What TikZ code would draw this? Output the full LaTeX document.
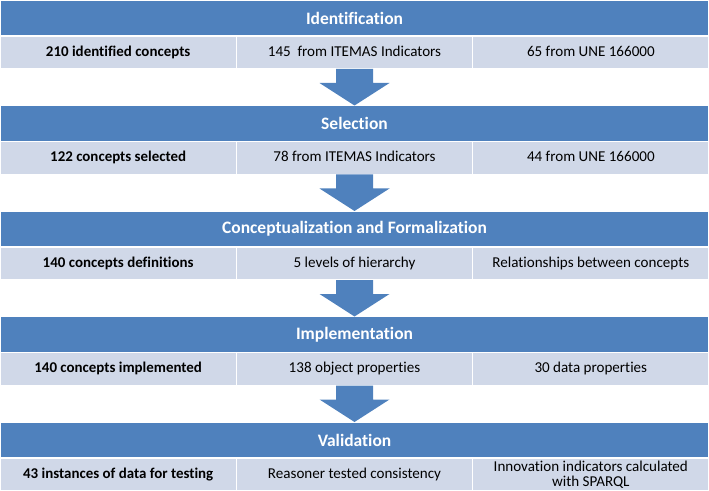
\documentclass[tikz,border=0pt]{standalone}
\usepackage{fontspec}
\setmainfont{Carlito}[Ligatures=NoCommon]
\usetikzlibrary{positioning,calc}
\definecolor{headblue}{HTML}{4F81BD}
\definecolor{cellblue}{HTML}{D0D8E8}

\begin{document}
\begin{tikzpicture}[x=0.75pt,y=-0.75pt,
    stagehead/.style={fill=headblue, draw=white, line width=0.8pt, outer sep=0pt, inner sep=0pt,
        minimum width=531.75pt, minimum height=27pt, text=white, font=\fontsize{13.1}{15}\selectfont\bfseries},
    cellbox/.style={fill=cellblue, draw=white, line width=0.8pt, outer sep=0pt, inner sep=0pt,
        minimum width=177.25pt, minimum height=24.75pt, align=center, font=\fontsize{11.3}{11.6}\selectfont},
    cell/.style={cellbox, text height=8pt, text depth=2.6pt},
    keycell/.style={cell, font=\fontsize{11.2}{12}\selectfont\bfseries},
    flow/.style={fill=headblue}]
    \useasboundingbox (0,0) rectangle (709,491);

    % Identification
    \node[stagehead] (h1) at (354.5,18) {Identification};
    \node[keycell] (c1a) at (118.17,52.5) {210 identified concepts};
    \node[cell] (c1b) at (354.5,52.5) {145\ \ from ITEMAS Indicators};
    \node[cell] (c1c) at (590.83,52.5) {65 from UNE 166000};

    % Selection
    \node[stagehead] (h2) at (354.5,123.5) {Selection};
    \node[keycell] (c2a) at (118.17,158) {122 concepts selected};
    \node[cell] (c2b) at (354.5,158) {78 from ITEMAS Indicators};
    \node[cell] (c2c) at (590.83,158) {44 from UNE 166000};

    % Conceptualization
    \node[stagehead] (h3) at (354.5,229) {Conceptualization and Formalization};
    \node[keycell] (c3a) at (118.17,263.5) {140 concepts definitions};
    \node[cell] (c3b) at (354.5,263.5) {5 levels of hierarchy};
    \node[cell] (c3c) at (590.83,263.5) {Relationships between concepts};

    % Implementation
    \node[stagehead] (h4) at (354.5,334.5) {Implementation};
    \node[keycell] (c4a) at (118.17,369) {140 concepts implemented};
    \node[cell] (c4b) at (354.5,369) {138 object properties};
    \node[cell] (c4c) at (590.83,369) {30 data properties};

    % Validation
    \node[stagehead] (h5) at (354.5,440) {Validation};
    \node[keycell] (c5a) at (118.17,474.5) {43 instances of data for testing};
    \node[cell] (c5b) at (354.5,474.5) {Reasoner tested consistency};
    \node[cellbox] (c5c) at (590.83,474.5) {Innovation indicators calculated\\with SPARQL};

    % Block arrows between stages
    \foreach \i/\j in {1/2,2/3,3/4,4/5} {
        \fill[flow] ($(c\i b.south)+(-18.5,0)$) -- ++(0,14) -- ++(-16.5,0) -- (h\j.north)
            -- ($(c\i b.south)+(35,14)$) -- ++(-16.5,0) -- ++(0,-14) -- cycle;
    }
\end{tikzpicture}
\end{document}
